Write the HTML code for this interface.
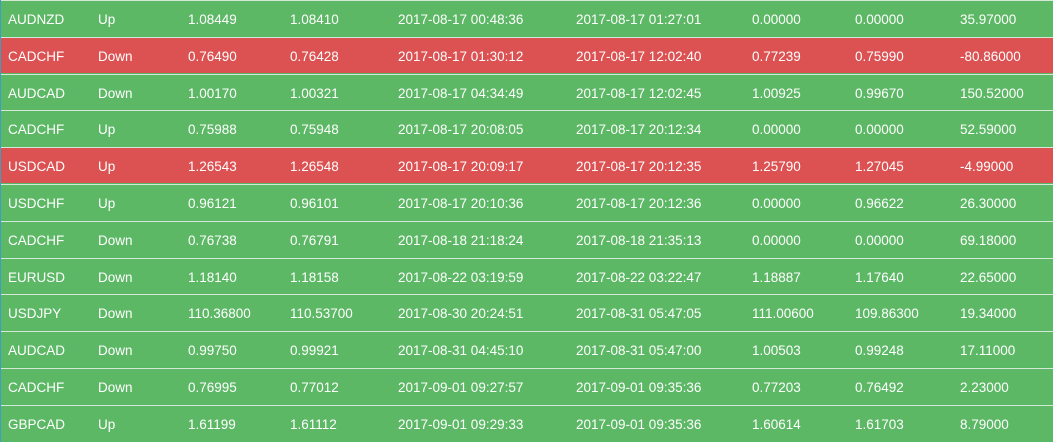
<!DOCTYPE html>
<html><head><meta charset="utf-8"><style>
html,body{margin:0;padding:0;width:1053px;height:442px;overflow:hidden;background:#56b865;}
body{font-family:"Liberation Sans",sans-serif;font-size:13.5px;color:#fff;position:relative;}
.row{position:absolute;left:0;width:1053px;height:35.3px;border-top:1.5px solid #d6e8d6;}
.g{background:#5cb865;}
.r{background:#dc5152;}
.c{position:absolute;top:11px;white-space:nowrap;}
#edge{position:absolute;left:0;top:0;width:1px;height:442px;background:#3a9fc0;}
</style></head><body>
<div id="tbl"></div>
<div id="edge"></div>
<script>
const rows=[
["AUDNZD","Up","1.08449","1.08410","2017-08-17 00:48:36","2017-08-17 01:27:01","0.00000","0.00000","35.97000"],
["CADCHF","Down","0.76490","0.76428","2017-08-17 01:30:12","2017-08-17 12:02:40","0.77239","0.75990","-80.86000"],
["AUDCAD","Down","1.00170","1.00321","2017-08-17 04:34:49","2017-08-17 12:02:45","1.00925","0.99670","150.52000"],
["CADCHF","Up","0.75988","0.75948","2017-08-17 20:08:05","2017-08-17 20:12:34","0.00000","0.00000","52.59000"],
["USDCAD","Up","1.26543","1.26548","2017-08-17 20:09:17","2017-08-17 20:12:35","1.25790","1.27045","-4.99000"],
["USDCHF","Up","0.96121","0.96101","2017-08-17 20:10:36","2017-08-17 20:12:36","0.00000","0.96622","26.30000"],
["CADCHF","Down","0.76738","0.76791","2017-08-18 21:18:24","2017-08-18 21:35:13","0.00000","0.00000","69.18000"],
["EURUSD","Down","1.18140","1.18158","2017-08-22 03:19:59","2017-08-22 03:22:47","1.18887","1.17640","22.65000"],
["USDJPY","Down","110.36800","110.53700","2017-08-30 20:24:51","2017-08-31 05:47:05","111.00600","109.86300","19.34000"],
["AUDCAD","Down","0.99750","0.99921","2017-08-31 04:45:10","2017-08-31 05:47:00","1.00503","0.99248","17.11000"],
["CADCHF","Down","0.76995","0.77012","2017-09-01 09:27:57","2017-09-01 09:35:36","0.77203","0.76492","2.23000"],
["GBPCAD","Up","1.61199","1.61112","2017-09-01 09:29:33","2017-09-01 09:35:36","1.60614","1.61703","8.79000"]];
const xs=[8,98,188,290,398,576,752,855,960];
const names=["symbol","direction","open-price","close-price","open-time","close-time","stop-loss","take-profit","profit"];
const tbl=document.getElementById('tbl');
rows.forEach((r,i)=>{
 const d=document.createElement('div');
 d.className='row '+(r[8].startsWith('-')?'r':'g');
 d.style.top=(i*36.8)+'px';
 
 
 r.forEach((v,j)=>{
  const s=document.createElement('span');
  s.className='c';s.style.left=xs[j]+'px';s.textContent=v;
  
  
  d.appendChild(s);
 });
 tbl.appendChild(d);
});
</script>
</body></html>
